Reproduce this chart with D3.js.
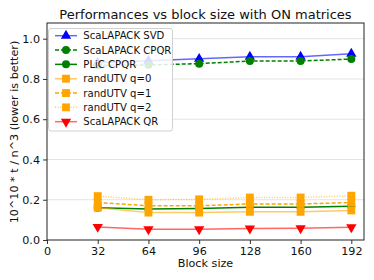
<!DOCTYPE html>
<html><head><meta charset="utf-8">
<script src="https://cdn.jsdelivr.net/npm/d3@7"></script>
<style>body{margin:0;background:#fff;} svg{display:block;font-family:"DejaVu Sans",sans-serif;}</style>
</head><body><svg id="c" width="374" height="280"></svg>
<script>
const blockSizes = [32, 64, 96, 128, 160, 192];
const xTicks = [0, 32, 64, 96, 128, 160, 192];
const yTicks = [0.0, 0.2, 0.4, 0.6, 0.8, 1.0];
const seriesNames = ["ScaLAPACK SVD","ScaLAPACK CPQR","PLiC CPQR","randUTV q=0","randUTV q=1","randUTV q=2","ScaLAPACK QR"];
const svdVals   = [0.880, 0.890, 0.900, 0.910, 0.910, 0.925];
const cpqrVals  = [0.868, 0.870, 0.876, 0.889, 0.889, 0.899];
const plicVals  = [0.160, 0.154, 0.156, 0.163, 0.163, 0.168];
const q0Vals    = [0.160, 0.136, 0.136, 0.140, 0.140, 0.147];
const q1Vals    = [0.186, 0.170, 0.170, 0.179, 0.179, 0.186];
const q2Vals    = [0.218, 0.200, 0.202, 0.211, 0.211, 0.220];
const qrVals    = [0.065, 0.053, 0.053, 0.057, 0.058, 0.063];

const styles = [
  {color:"#0000ff", dash:null, marker:"triangle", op:0.6},
  {color:"#008000", dash:"4,2", marker:"circle", op:1},
  {color:"#008000", dash:null, marker:"circle", op:1},
  {color:"#ffa500", dash:null, marker:"square", op:0.6},
  {color:"#ffa500", dash:"4,2", marker:"square", op:1},
  {color:"#ffa500", dash:"1,1.6", marker:"square", op:0.6},
  {color:"#ff0000", dash:null, marker:"triangledown", op:0.6}
];
const allVals = [svdVals, cpqrVals, plicVals, q0Vals, q1Vals, q2Vals, qrVals];

const W=374,H=280, m={l:47,r:10,t:23,b:40};
const svg=d3.select("#c");
const x=d3.scaleLinear().domain([0,200]).range([m.l,W-m.r]);
const y=d3.scaleLinear().domain([0,1.078]).range([H-m.b,m.t]);

// grid
svg.append("g").selectAll("line").data(yTicks.slice(1)).join("line")
  .attr("x1",m.l).attr("x2",W-m.r).attr("y1",d=>y(d)).attr("y2",d=>y(d))
  .attr("stroke","#e3e3e3").attr("stroke-width",1);

const xa=svg.append("g").attr("transform",`translate(0,${H-m.b})`)
  .call(d3.axisBottom(x).tickValues(xTicks).tickFormat(d3.format("d")).tickSize(4).tickPadding(3));
const ya=svg.append("g").attr("transform",`translate(${m.l},0)`)
  .call(d3.axisLeft(y).tickValues(yTicks).tickFormat(d3.format(".1f")).tickSize(4).tickPadding(3));
[xa,ya].forEach(a=>{a.select(".domain").remove();
  a.selectAll("text").attr("font-size","11.2px").attr("fill","#111").attr("font-family","DejaVu Sans");
  a.selectAll("line").attr("stroke","#333");});

const markerPath = {
  triangle: d3.symbol().type(d3.symbolTriangle).size(46)(),
  circle: d3.symbol().type(d3.symbolCircle).size(50)(),
  square: d3.symbol().type(d3.symbolSquare).size(62)(),
  triangledown: d3.symbol().type(d3.symbolTriangle).size(46)()
};
const line=d3.line().x((d,i)=>x(blockSizes[i])).y(d=>y(d));
allVals.forEach((vals,k)=>{
  const s=styles[k];
  svg.append("path").attr("d",line(vals)).attr("fill","none").attr("stroke",s.color)
    .attr("stroke-width",1.5).attr("stroke-opacity",s.op).attr("stroke-dasharray",s.dash);
  svg.append("g").selectAll("path").data(vals).join("path")
    .attr("d",markerPath[s.marker])
    .attr("transform",(d,i)=>`translate(${x(blockSizes[i])},${y(d)})`+(s.marker==="triangledown"?" rotate(180)":""))
    .attr("fill",s.color);
});

// frame
svg.append("rect").attr("x",m.l).attr("y",m.t).attr("width",W-m.l-m.r).attr("height",H-m.t-m.b)
  .attr("fill","none").attr("stroke","#222").attr("stroke-width",1);

// legend
const lg=svg.append("g");
lg.append("rect").attr("x",48.5).attr("y",28.5).attr("width",124).attr("height",102.5).attr("rx",2.5)
  .attr("fill","#fff").attr("fill-opacity",0.85).attr("stroke","#d0d0d0");
seriesNames.forEach((n,k)=>{
  const s=styles[k], cy=35.7+k*14.33;
  lg.append("line").attr("x1",55).attr("x2",77).attr("y1",cy).attr("y2",cy)
    .attr("stroke",s.color).attr("stroke-width",1.5).attr("stroke-opacity",s.op).attr("stroke-dasharray",s.dash);
  lg.append("path").attr("d",markerPath[s.marker])
    .attr("transform",`translate(66,${cy})`+(s.marker==="triangledown"?" rotate(180)":"")).attr("fill",s.color);
  lg.append("text").attr("x",83.3).attr("y",cy).attr("dy","0.35em").attr("font-size","10.1px").attr("fill","#111").text(n);
});

svg.append("text").attr("x",205.5).attr("y",18.7).attr("text-anchor","middle").attr("font-size","13px").attr("fill","#111")
  .text("Performances vs block size with ON matrices");
svg.append("text").attr("x",205.5).attr("y",267).attr("text-anchor","middle").attr("font-size","11.2px").attr("fill","#111")
  .text("Block size");
svg.append("text").attr("transform","translate(17.5,132) rotate(-90)").attr("text-anchor","middle").attr("font-size","11.2px").attr("fill","#111")
  .text("10^10 * t / n^3 (lower is better)");
</script></body></html>
